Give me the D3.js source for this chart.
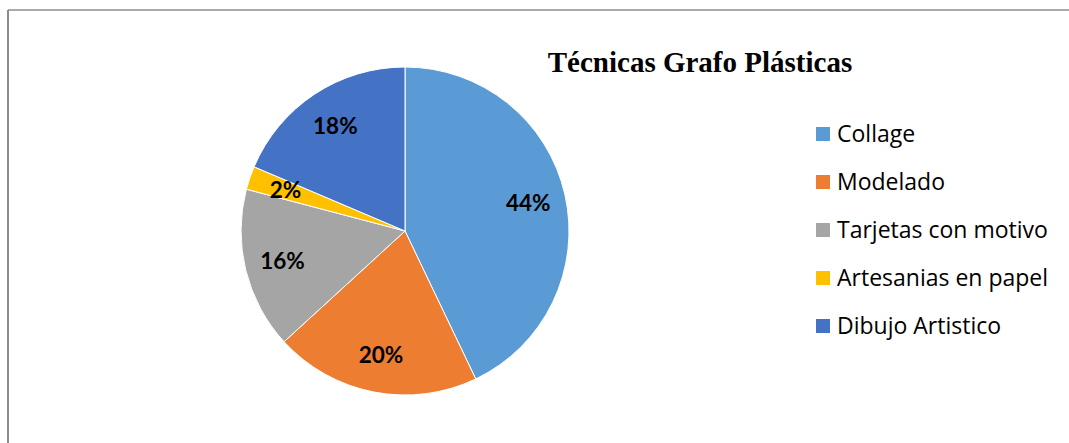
<!DOCTYPE html>
<meta charset="utf-8">
<style>
    body { margin: 0; background: #fff; }
    .title { font-family: "Liberation Serif", "Times New Roman", serif; font-weight: bold; font-size: 29px; }
    .lbl { font-family: Lato, sans-serif; font-weight: bold; font-size: 22.5px; fill: #000; }
    .leg { font-family: "Open Sans", sans-serif; font-size: 23px; fill: #000; }
</style>
<script src="https://d3js.org/d3.v7.min.js"></script>
<body>
<div id="chart"></div>
<script>
    var categories = ["Collage", "Modelado", "Tarjetas con motivo", "Artesanias en papel", "Dibujo Artistico"];
    // slice sizes as drawn in the picture
    var values = [42.9, 20.3, 15.9, 2.3, 18.6];
    // percentages as printed on the slices
    var labels = ["44%", "20%", "16%", "2%", "18%"];
    var colors = ["#5B9BD5", "#ED7D31", "#A5A5A5", "#FFC000", "#4472C4"];
    var title = "Técnicas Grafo Plásticas";

    var W = 1069, H = 443;
    var svg = d3.select("#chart").append("svg")
        .attr("width", W)
        .attr("height", H);

    // frame (only top and left visible in the reference)
    svg.append("line").attr("x1", 8).attr("y1", 10).attr("x2", W).attr("y2", 10)
        .attr("stroke", "#8c8c8c").attr("stroke-width", 1.5);
    svg.append("line").attr("x1", 8).attr("y1", 10).attr("x2", 8).attr("y2", H)
        .attr("stroke", "#8c8c8c").attr("stroke-width", 2);

    var cx = 405, cy = 231, radius = 164;

    var data = categories.map(function(c, i) {
        return { name: c, value: values[i], label: labels[i] };
    });

    var color = d3.scaleOrdinal().domain(categories).range(colors);

    var pie = d3.pie().sort(null).value(function(d) { return d.value; });
    var arc = d3.arc().innerRadius(0).outerRadius(radius);
    var labelArc = d3.arc().innerRadius(radius * 0.77).outerRadius(radius * 0.77);

    var g = svg.append("g").attr("transform", "translate(" + cx + "," + cy + ")");
    var arcs = pie(data);

    g.selectAll("path")
        .data(arcs)
        .enter().append("path")
        .attr("d", arc)
        .attr("fill", function(d) { return color(d.data.name); })
        .attr("stroke", "#fff")
        .attr("stroke-width", 1);

    g.selectAll("text")
        .data(arcs)
        .enter().append("text")
        .attr("class", "lbl")
        .attr("transform", function(d) { return "translate(" + labelArc.centroid(d) + ")"; })
        .attr("text-anchor", "middle")
        .attr("dy", "0.35em")
        .text(function(d) { return d.data.label; });

    svg.append("text")
        .attr("class", "title")
        .attr("x", 700)
        .attr("y", 72)
        .attr("text-anchor", "middle")
        .text(title);

    var legend = svg.append("g").attr("transform", "translate(816,134)");
    var yLeg = d3.scalePoint().domain(categories).range([0, 192]);
    var item = legend.selectAll("g")
        .data(categories)
        .enter().append("g")
        .attr("transform", function(d) { return "translate(0," + yLeg(d) + ")"; });
    item.append("rect")
        .attr("x", 0).attr("y", -7)
        .attr("width", 14).attr("height", 14)
        .attr("fill", function(d) { return color(d); });
    item.append("text")
        .attr("class", "leg")
        .attr("x", 21)
        .attr("dy", "0.36em")
        .text(function(d) { return d; });
</script>
</body>
